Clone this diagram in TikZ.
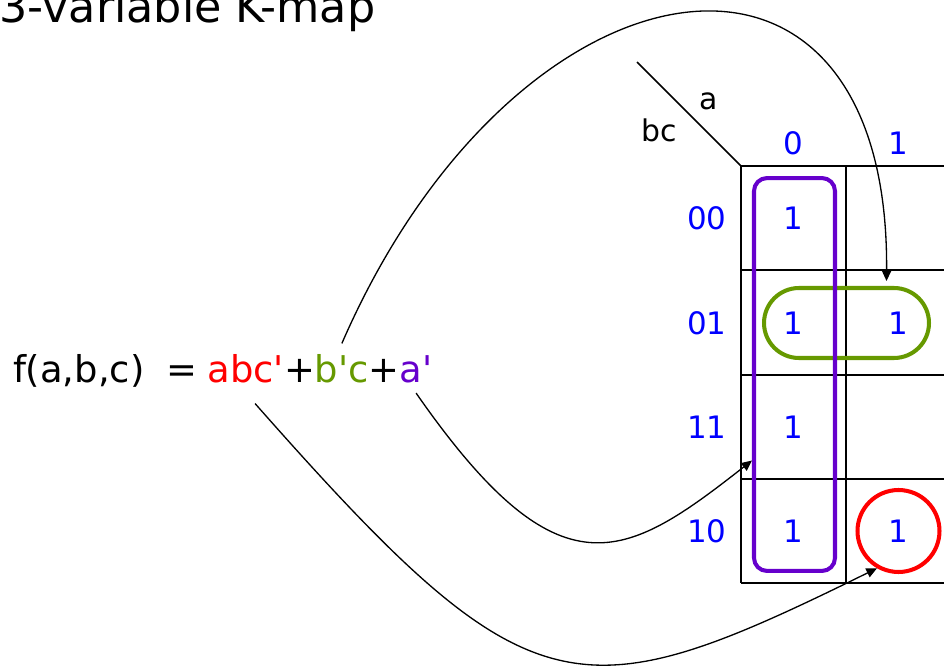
\documentclass[tikz,border=0pt]{standalone}
\usepackage{fontspec}
\setmainfont{DejaVu Sans}
\usetikzlibrary{arrows.meta,positioning,calc}
\definecolor{KmapBlue}{HTML}{0000FF}
\definecolor{KmapRed}{HTML}{FF0000}
\definecolor{KmapGreen}{HTML}{669900}
\definecolor{KmapPurple}{HTML}{6600CC}

\begin{document}
\begin{tikzpicture}[x=0.02cm, y=-0.02cm,
   num/.style={text=KmapBlue, font=\fontsize{17.6}{21}\selectfont, inner sep=0pt},
   lbl/.style={font=\fontsize{17}{20}\selectfont, inner sep=0pt},
   term/.style={font=\fontsize{21}{26}\selectfont, inner sep=0pt, outer xsep=0pt,
                outer ysep=6pt, anchor=base west},
   kline/.style={line width=0.85pt},
   grp/.style={line width=2.3pt},
   link/.style={-{Triangle[length=6pt,width=5.4pt]}, line width=0.75pt}]
  \useasboundingbox (0,0) rectangle (944,672);
  \node[anchor=base west, inner sep=0pt, font=\fontsize{25.3}{30}\selectfont] (title) at (-1,23) {3-variable K-map};

  % the function, one node per term so the links can start there
  \node[term] (lhs) at (13,382) {f(a,b,c)\kern0.6em=\kern0.27em};
  \node[term, text=KmapRed] (tA) at (lhs.base east) {abc\textquotesingle};
  \node[term] (p1) at (tA.base east) {+};
  \node[term, text=KmapGreen] (tB) at (p1.base east) {b\textquotesingle c};
  \node[term] (p2) at (tB.base east) {+};
  \node[term, text=KmapPurple] (tC) at (p2.base east) {a\textquotesingle};

  % map grid
  \foreach \y in {166,270,375,479,583}
    \draw[kline] (741,\y) -- (951,\y);
  \foreach \x in {741,846,951}
    \draw[kline] (\x,166) -- (\x,583);
  \draw[kline] (637,62) -- (741,166);
  \node[lbl] (varA) at (709,101) {a};
  \node[lbl] (varBC) at (659,130) {bc};

  \node[num] (col0) at (793.5,143) {0};
  \node[num] (col1) at (898.5,143) {1};
  \node[num] (row00) at (707,218) {00};
  \node[num] (row01) at (707,323) {01};
  \node[num] (row11) at (707,427) {11};
  \node[num] (row10) at (707,531) {10};

  % groups
  \node[grp, draw=KmapGreen, rounded corners=0.7cm, minimum width=3.3cm, minimum height=1.4cm] (grpB) at (846.5,323) {};
  \node[grp, draw=KmapPurple, rounded corners=0.26cm, minimum width=1.62cm, minimum height=7.86cm] (grpA) at (794.5,374.5) {};
  \node[grp, draw=KmapRed, circle, minimum size=1.64cm] (grpC) at (898.5,531) {};

  \node[num] (c0r00) at (793.5,218) {1};
  \node[num] (c0r01) at (793.5,323) {1};
  \node[num] (c1r01) at (898.5,323) {1};
  \node[num] (c0r11) at (793.5,427) {1};
  \node[num] (c0r10) at (793.5,531) {1};
  \node[num] (c1r10) at (898.5,531) {1};

  % links from the terms to their groups
  \coordinate (inB) at ($(grpB.north)+(40,-5)$);
  \coordinate (inA) at ($(grpA.west)+(0,86)$);
  \draw[link] (tB.north) .. controls (515,-55) and (890,-115) .. (inB);
  \draw[link] (tC.south) .. controls (560,600) and (625,560) .. (inA);
  \draw[link, shorten <=8pt] (tA.south) .. controls (530,715) and (575,717) .. (grpC.240);
\end{tikzpicture}
\end{document}
